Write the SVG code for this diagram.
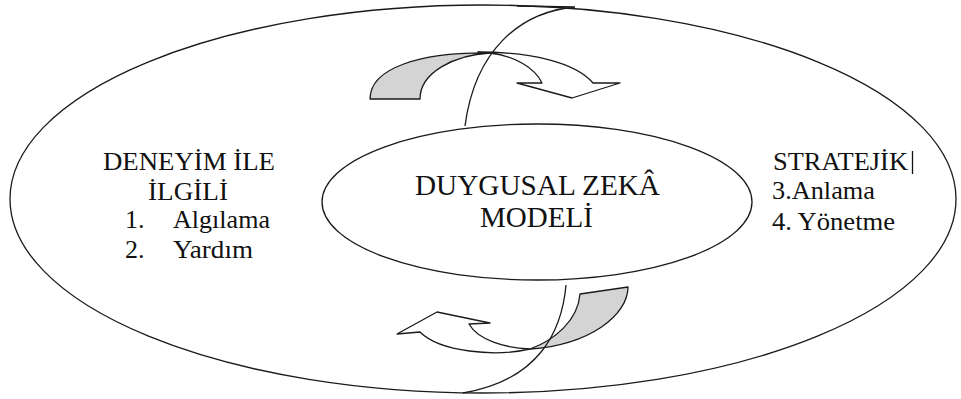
<svg xmlns="http://www.w3.org/2000/svg" width="961" height="399" viewBox="0 0 961 399">
<style>
.ln{fill:none;stroke:#1a1a1a;stroke-width:1.3}
.gray{fill:#d4d4d4;stroke:#1a1a1a;stroke-width:1.3;stroke-linejoin:round}
.wht{fill:#ffffff;stroke:#1a1a1a;stroke-width:1.3;stroke-linejoin:round}
text{fill:#111;font-family:'Liberation Serif','DejaVu Serif',serif}
.s{font-size:26px}
.c{font-size:29px}
</style>
<rect width="961" height="399" fill="#ffffff"/>
<g id="outer">
<ellipse class="ln" cx="483" cy="199" rx="473" ry="194"/>
</g>
<g id="inner">
<ellipse class="ln" cx="537" cy="202" rx="215" ry="78"/>
<text class="c" x="415" y="195" textLength="245" lengthAdjust="spacingAndGlyphs">DUYGUSAL ZEKÂ</text>
<text class="c" x="480" y="227" textLength="113" lengthAdjust="spacingAndGlyphs">MODELİ</text>
</g>
<g id="left">
<text class="s" x="103" y="170" textLength="172" lengthAdjust="spacingAndGlyphs">DENEYİM İLE</text>
<text class="s" x="148" y="200" textLength="80" lengthAdjust="spacingAndGlyphs">İLGİLİ</text>
<text class="s" x="125" y="228">1.</text>
<text class="s" x="173" y="228" textLength="97" lengthAdjust="spacingAndGlyphs">Algılama</text>
<text class="s" x="125" y="258">2.</text>
<text class="s" x="173" y="258" textLength="80" lengthAdjust="spacingAndGlyphs">Yardım</text>
</g>
<g id="right">
<text class="s" x="773" y="170" textLength="135" lengthAdjust="spacingAndGlyphs">STRATEJİK</text>
<line x1="912.5" y1="151" x2="912.5" y2="174" stroke="#111" stroke-width="1.3"/>
<text class="s" x="772" y="199" textLength="103" lengthAdjust="spacingAndGlyphs">3.Anlama</text>
<text class="s" x="772" y="230" textLength="123" lengthAdjust="spacingAndGlyphs">4. Yönetme</text>
</g>
<g id="connectors">
<path class="gray" d="M370,99 C370,68 420,52 490,53 C455,55 420,72 420,99 Z"/>
<path class="wht" d="M478,52 C530,52 575,62 593,83 L620,83 L572,98 L517,83 L542,83 C535,68 515,56 490,53 Z"/>
<path class="gray" d="M580,294 L628,287 C628,315 590,345 530,349 C555,340 578,320 580,294 Z"/>
<path class="wht" d="M530,349 C495,357 440,352 420,332 L397,334 L437,312 L490,323 L469,324 C478,340 505,348 530,349 Z"/>
<path class="ln" d="M517,6 L575,7 C520,12 475,50 465,126"/>
<path class="ln" d="M566,285 C562,330 540,380 463,393"/>
</g>
</svg>
